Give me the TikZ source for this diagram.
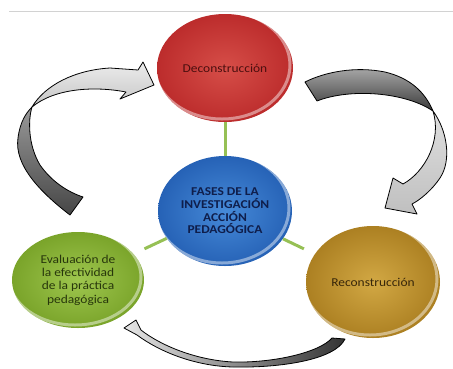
\documentclass[tikz,border=0pt]{standalone}
\usepackage{fontspec}
\setmainfont{Carlito}[FakeStretch=1.12]
\usetikzlibrary{shapes.geometric,calc}
\definecolor{rojo}{RGB}{188,44,44}
\definecolor{rojoclaro}{RGB}{214,78,72}
\definecolor{azul}{RGB}{38,98,182}
\definecolor{azulclaro}{RGB}{70,138,216}
\definecolor{verde}{RGB}{122,164,42}
\definecolor{verdeclaro}{RGB}{158,198,78}
\definecolor{oro}{RGB}{172,128,34}
\definecolor{oroclaro}{RGB}{210,168,68}
\definecolor{linea}{RGB}{150,192,85}

\begin{document}
\begin{tikzpicture}[x=1pt,y=-1pt,
    fase/.style={ellipse,inner sep=0pt,align=center,
        font=\fontsize{12}{13}\selectfont,
        path picture={\path let \p1=(path picture bounding box.north east),
            \p2=(path picture bounding box.south west) in
            [draw=white,draw opacity=.45,line width=3pt]
            ($(\p1)!.5!(\p2)+(-3,-3)$) ellipse [x radius={(\x1-\x2)/2},y radius={(\y1-\y2)/2}];}},
    enlace/.style={draw=linea,line width=3pt},
    flecha/.style={draw=black,line width=0.8pt,line join=round}]
    \useasboundingbox (0,0) rectangle (453,368);
    \draw [gray!35,line width=1pt] (9,11) -- (453,11);

    % arrows
    \draw [flecha,top color=gray!80,bottom color=gray!55!black]
        (70,215) .. controls (40,192) and (14,165) .. (18,138)
        .. controls (20,122) and (26,113) .. (32,107)
        .. controls (28,120) and (28,145) .. (40,165)
        .. controls (52,182) and (68,192) .. (83,197) -- cycle;
    \draw [flecha,top color=gray!15,bottom color=gray!45]
        (32,107) .. controls (45,85) and (75,70) .. (110,68)
        -- (138,70) -- (143,62) -- (154,85) -- (120,99) -- (126,92)
        .. controls (95,86) and (55,88) .. (32,107) -- cycle;
    \draw [flecha,top color=gray!65,bottom color=gray!45!black]
        (305,82) -- (317,101)
        .. controls (350,88) and (405,92) .. (433,111)
        .. controls (425,92) and (410,78) .. (385,72)
        .. controls (355,66) and (325,72) .. (305,82) -- cycle;
    \draw [flecha,top color=gray!25,bottom color=gray!50]
        (433,111) .. controls (447,130) and (452,160) .. (440,178)
        .. controls (432,190) and (420,200) .. (412,204)
        -- (417,214) -- (385,208) -- (393,178) -- (403,184)
        .. controls (425,172) and (442,140) .. (433,111) -- cycle;
    \draw [flecha,left color=gray!20,right color=gray!40!black]
        (332,338) -- (345,339)
        .. controls (335,360) and (280,368) .. (233,367)
        .. controls (195,366) and (160,352) .. (137,335)
        -- (124,328) -- (136,320) -- (141,330)
        .. controls (160,345) and (195,360) .. (233,362)
        .. controls (275,363) and (320,352) .. (332,338) -- cycle;

    % phases
    \node [fase,minimum width=136pt,minimum height=108pt,
        inner color=rojoclaro,outer color=rojo,text={rgb,255:red,75;green,15;blue,15}]
        (0) at (225,68) {Deconstrucción};
    \node [fase,minimum width=134pt,minimum height=110pt,
        inner color=azulclaro,outer color=azul,text={rgb,255:red,15;green,30;blue,75},
        font=\bfseries\fontsize{12}{12.7}\selectfont]
        (1) at (225,211) {FASES DE LA\\INVESTIGACIÓN\\ACCIÓN\\PEDAGÓGICA};
    \node [fase,minimum width=132pt,minimum height=96pt,
        inner color=verdeclaro,outer color=verde,text={rgb,255:red,40;green,55;blue,12},
        font=\fontsize{12}{13.3}\selectfont]
        (2) at (78,280) {Evaluación de\\la efectividad\\de la práctica\\pedagógica};
    \node [fase,minimum width=134pt,minimum height=112pt,
        inner color=oroclaro,outer color=oro,text={rgb,255:red,55;green,38;blue,10}]
        (3) at (373,282) {Reconstrucción};

    % edges
    \draw [enlace] (0) to (1);
    \draw [enlace,shorten >=12pt] (1) to (2);
    \draw [enlace,shorten >=12pt] (1) to (3);
\end{tikzpicture}
\end{document}
